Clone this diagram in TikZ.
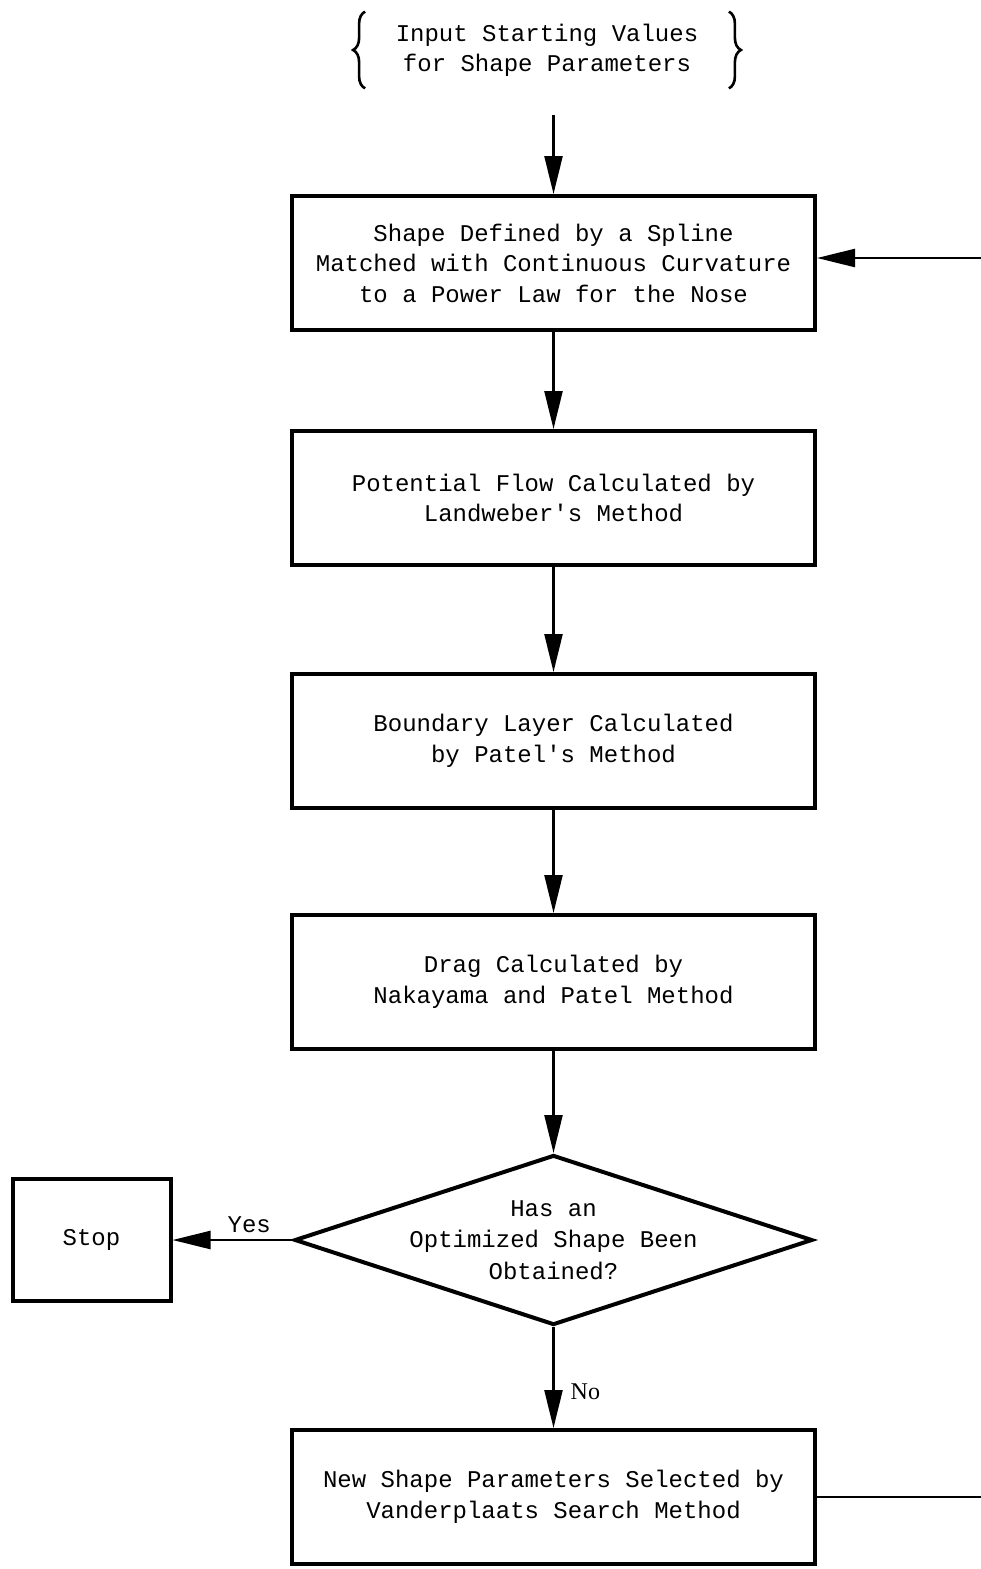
\documentclass[tikz,border=0pt]{standalone}
\usepackage{fontspec}
\setmainfont{Liberation Mono}
\newfontfamily\nofont{Liberation Serif}
\usetikzlibrary{arrows.meta,positioning,shapes.geometric,decorations.pathreplacing}

\begin{document}
\begin{tikzpicture}[x=0.5pt,y=-0.5pt,node distance=120pt,on grid,
    box/.style={draw,line width=2pt,minimum width=261.5pt,minimum height=67pt,
      inner sep=0pt,align=center,font=\fontsize{12}{15.25}\selectfont},
    decision/.style={diamond,draw,line width=2pt,minimum width=259pt,
      minimum height=85pt,inner sep=0pt},
    flow/.style={line width=1.2pt,-{Triangle[length=19pt,width=9pt]}},
    curly/.style={decorate,decoration={brace,amplitude=6pt},line width=1.3pt}]
  \useasboundingbox (0,0) rectangle (980,1569);

  % start values
  \node[minimum width=181.5pt,minimum height=38pt,inner sep=0pt,align=center,
    font=\fontsize{12}{15}\selectfont] (input) at (547,50)
    {Input Starting Values\\for Shape Parameters};
  \draw[curly] (input.south west) -- (input.north west);
  \draw[curly] (input.north east) -- (input.south east);

  % main column
  \node[box] (shape) at (553.5,263)
    {Shape Defined by a Spline\\Matched with Continuous Curvature\\to a Power Law for the Nose};
  \node[box] (potential) [below=117.5pt of shape]
    {Potential Flow Calculated by\\Landweber\textquotesingle s Method};
  \node[box] (layer) [below=121.5pt of potential]
    {Boundary Layer Calculated\\by Patel\textquotesingle s Method};
  \node[box] (drag) [below=120.5pt of layer]
    {Drag Calculated by\\Nakayama and Patel Method};
  \node[decision] (optim) [below=129pt of drag] {};
  \node[align=center,font=\fontsize{12}{15.75}\selectfont] (optimtext) at (optim.center)
    {Has an\\Optimized Shape Been\\Obtained?};
  \node[box] (search) [below=128.5pt of optim]
    {New Shape Parameters Selected by\\Vanderplaats Search Method};
  \node[box,minimum width=79pt,minimum height=61pt] (stop) [left=231pt of optim] {Stop};

  \coordinate (loopb) at (990,1497);
  \coordinate (loopt) at (990,258);

  \draw[flow,shorten <=13.5pt] (shape.north |- input.south) -- (shape);
  \draw[flow] (shape) -- (potential);
  \draw[flow] (potential) -- (layer);
  \draw[flow] (layer) -- (drag);
  \draw[flow] (drag) -- (optim);
  \draw[flow] (optim.west) -- node[above,pos=0.36,inner sep=3pt,font=\fontsize{12}{14}\selectfont] {Yes} (stop.east);
  \draw[flow] (optim.south) -- node[right,pos=0.64,inner sep=8pt,font=\nofont\fontsize{12}{14}\selectfont] {No} (search.north);
  \draw[line width=1.2pt] (search.east) -- (loopb) -- (loopt);
  \draw[flow] (loopt) -- (shape.east |- loopt);
\end{tikzpicture}
\end{document}
